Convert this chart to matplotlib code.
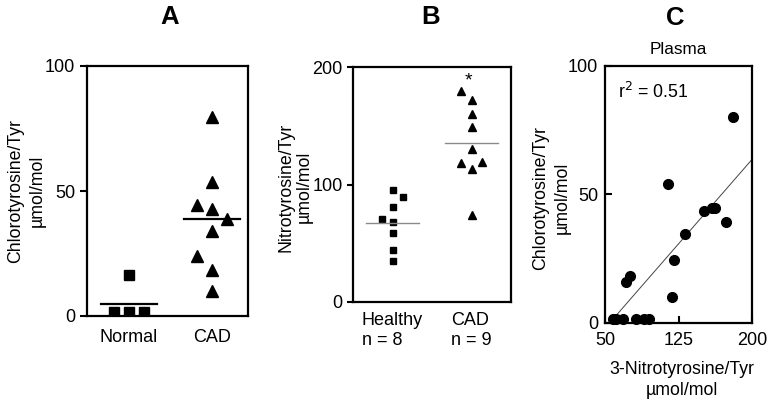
import matplotlib
matplotlib.use("Agg")
import matplotlib.pyplot as plt
import numpy as np

plt.rcParams['font.family'] = ['Liberation Sans', 'DejaVu Sans']

# ---------------- data ----------------
# Panel A: chlorotyrosine/Tyr (umol/mol)
a_categories = ["Normal", "CAD"]
a_normal = [1.7, 1.7, 1.7, 16.3]
a_normal_col = [-1, 0, 1, 0]
a_cad = [79.5, 53.7, 44.4, 43.0, 38.7, 34.1, 24.0, 18.4, 10.0]
a_cad_col = [0, 0, -1, 0, 1, 0, -1, 0, 0]
a_means = [5.0, 38.7]

# Panel B: nitrotyrosine/Tyr (umol/mol)
b_categories = ["Healthy\nn = 8", "CAD\nn = 9"]
b_healthy = [95.3, 89.6, 81.2, 70.7, 68.2, 58.6, 44.4, 35.3]
b_healthy_col = [0, 1, 0, -1, 0, 0, 0, 0]
b_cad = [179.6, 171.7, 160.4, 149.1, 130.4, 118.0, 119.4, 113.4, 74.1]
b_cad_col = [-1, 0, 0, 0, 0, -1, 1, 0, 0]
b_means = [67.6, 135.5]
b_star_value = 188

# Panel C: plasma scatter
c_nitro = [58.0, 61.0, 68.7, 81.7, 89.9, 95.3, 71.5, 75.6, 114.7, 118.5,
           120.9, 131.5, 150.9, 159.5, 162.0, 173.0, 180.5]
c_chloro = [1.3, 1.3, 1.3, 1.3, 1.3, 1.3, 16.0, 18.3, 53.9, 10.1,
            24.4, 34.7, 43.5, 44.8, 44.8, 39.1, 80.0]
c_slope = 0.4385
c_intercept = -24.1
c_r2 = 0.51

# ---------------- figure ----------------
W, H = 771, 405
fig = plt.figure(figsize=(W / 100, H / 100), dpi=100)


def px_axes(x0, y0, x1, y1):
    return fig.add_axes([x0 / W, 1 - y1 / H, (x1 - x0) / W, (y1 - y0) / H])


def ftext(x, y, s, **kw):
    fig.text(x / W, 1 - y / H, s, **kw)


FS = 13
LFS = 12.8
SPW = 1.6

# ---- Panel A ----
axA = px_axes(87, 66, 248, 316)
offA = 0.18
axA.plot(np.array([1] * len(a_normal)) + offA * np.array(a_normal_col), a_normal,
         ls='none', marker='s', ms=7.3, color='black')
axA.plot(np.array([2] * len(a_cad)) + offA * np.array(a_cad_col), a_cad,
         ls='none', marker='^', ms=8, color='black')
for i, m in enumerate(a_means):
    axA.plot([i + 1 - 0.34, i + 1 + 0.34], [m, m], color='black', lw=1.6)
axA.set_xlim(0.494, 2.434)
axA.set_ylim(0, 100)
axA.set_yticks([0, 50, 100])
axA.set_xticks([1, 2])
axA.set_xticklabels(a_categories)
axA.tick_params(axis='y', direction='out', length=5, width=1.5, labelsize=FS, pad=3.5)
axA.tick_params(axis='x', length=0, labelsize=FS, pad=9.5)
for s in axA.spines.values():
    s.set_linewidth(SPW)
ftext(26.5, 191, "Chlorotyrosine/Tyr\nµmol/mol", rotation=90, ha='center', va='center',
      fontsize=LFS, linespacing=1.3)
ftext(170, 17, "A", fontsize=18.5, fontweight='bold', ha='center', va='center')

# ---- Panel B ----
axB = px_axes(353, 67, 511, 302)
offB = 0.136
axB.plot(np.array([1] * len(b_healthy)) + offB * np.array(b_healthy_col), b_healthy,
         ls='none', marker='s', ms=4.3, color='black')
axB.plot(np.array([2] * len(b_cad)) + offB * np.array(b_cad_col), b_cad,
         ls='none', marker='^', ms=5.2, color='black')
for i, m in enumerate(b_means):
    axB.plot([i + 1 - 0.33, i + 1 + 0.33], [m, m], color='#8a8a8a', lw=1.0)
axB.text(2 - 0.04, b_star_value, "*", ha='center', va='center', fontsize=14)
axB.set_xlim(0.5, 2.5)
axB.set_ylim(0, 200)
axB.set_yticks([0, 100, 200])
axB.set_xticks([1, 2])
axB.set_xticklabels(b_categories, multialignment='left', linespacing=1.2)
axB.tick_params(axis='y', direction='out', length=4, width=1.5, labelsize=FS, pad=3.5)
axB.tick_params(axis='x', length=0, labelsize=FS, pad=7.5)
for s in axB.spines.values():
    s.set_linewidth(SPW)
ftext(295, 187, "Nitrotyrosine/Tyr\nµmol/mol", rotation=90, ha='center', va='center',
      fontsize=LFS, linespacing=1.15)
ftext(431, 17, "B", fontsize=18.5, fontweight='bold', ha='center', va='center')

# ---- Panel C ----
axC = px_axes(605, 66, 752, 322.7)
rx = np.array([55, 200])
axC.plot(rx, c_slope * rx + c_intercept, color='#444444', lw=0.7, zorder=2)
axC.plot(c_nitro, c_chloro, ls='none', marker='o', ms=7, color='black', zorder=3,
         clip_on=False)
axC.text(63.3, 90, "r$^2$ = 0.51", ha='left', va='center', fontsize=LFS)
axC.set_xlim(50, 200)
axC.set_ylim(0, 100)
axC.set_xticks([50, 125, 200])
axC.set_yticks([0, 50, 100])
axC.tick_params(axis='both', direction='in', length=5, width=1.5, labelsize=FS)
axC.tick_params(axis='x', pad=7)
axC.tick_params(axis='y', pad=5)
for s in axC.spines.values():
    s.set_linewidth(SPW)
ftext(551.5, 198, "Chlorotyrosine/Tyr\nµmol/mol", rotation=90, ha='center', va='center',
      fontsize=LFS, linespacing=1.3)
ftext(682, 380, "3-Nitrotyrosine/Tyr\nµmol/mol", ha='center', va='center',
      fontsize=LFS, linespacing=1.3)
ftext(675, 18, "C", fontsize=18.5, fontweight='bold', ha='center', va='center')
ftext(678, 49, "Plasma", fontsize=12.3, ha='center', va='center')

fig.savefig("out.png", dpi=100)
